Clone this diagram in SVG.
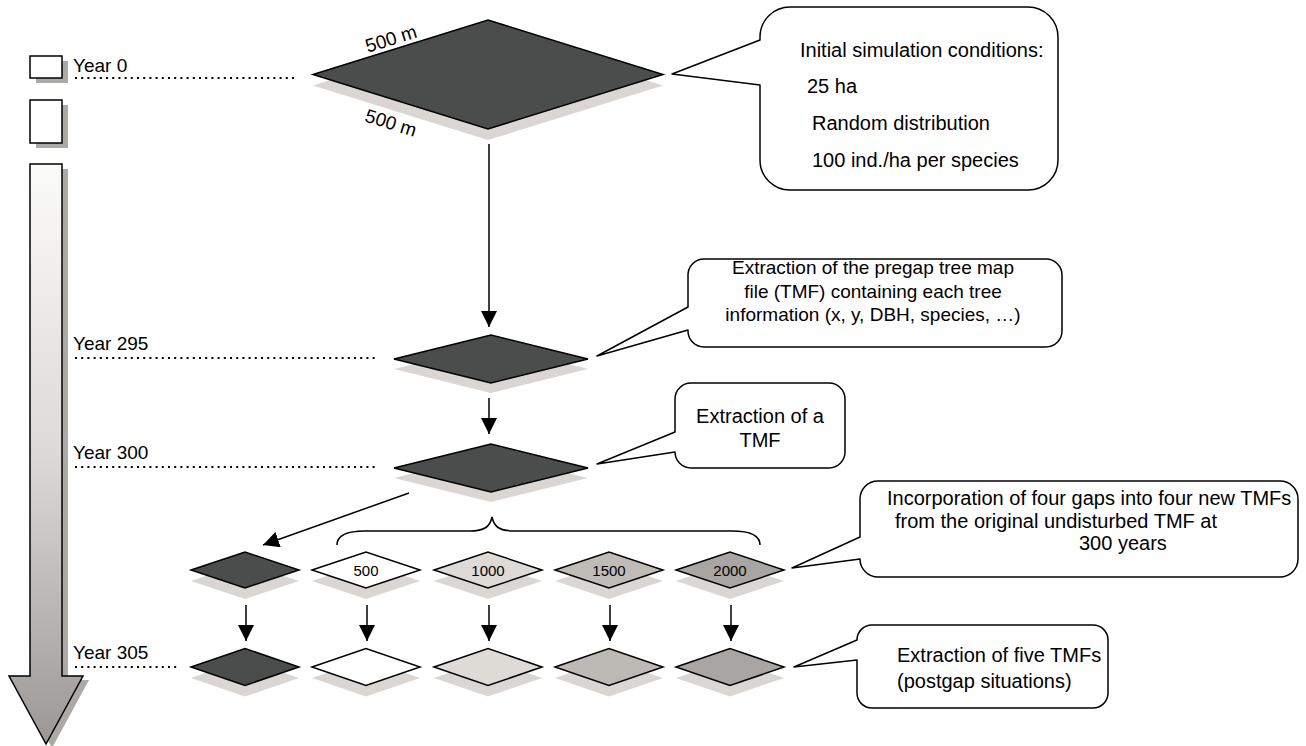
<svg xmlns="http://www.w3.org/2000/svg" width="1306" height="746" viewBox="0 0 1306 746">
<defs>
<style>
text{font-family:"Liberation Sans",Arial,sans-serif;fill:#000}
.yr{font-size:19px}
.ct{font-size:20px}
.ct19{font-size:19px}
.lb{font-size:15px}
.dm{stroke:#000;stroke-width:1.5;stroke-linejoin:miter}
.sh{fill:#d9d6d3}
.bsh{fill:#aca9a6}
.dark{fill:#4b4d4c}
.co{fill:#fff;stroke:#000;stroke-width:1.5;stroke-linejoin:round}
.dot{stroke:#000;stroke-width:2;stroke-dasharray:2 4.2;fill:none}
.ar{stroke:#000;stroke-width:1.5;fill:none;marker-end:url(#ah)}
</style>
<marker id="ah" markerUnits="userSpaceOnUse" markerWidth="16" markerHeight="16" refX="16" refY="8" orient="auto">
<path d="M0,0 L16,8 L0,16 Z" fill="#000"/>
</marker>
<linearGradient id="tg" gradientUnits="userSpaceOnUse" x1="0" y1="165" x2="0" y2="744">
<stop offset="0" stop-color="#fbfbfa"/>
<stop offset="0.5" stop-color="#dcd9d6"/>
<stop offset="1" stop-color="#9a9794"/>
</linearGradient>
</defs>

<g id="timeline">
<rect class="bsh" x="36" y="61" width="32" height="22"/>
<rect x="30" y="56" width="32" height="22" fill="#fff" stroke="#000" stroke-width="1.5"/>
<rect class="bsh" x="36" y="105" width="32" height="43"/>
<rect x="30" y="100" width="32" height="43" fill="#fff" stroke="#000" stroke-width="1.5"/>
<path class="bsh" d="M36,169 L68,169 L68,680 L89,680 L52,748 L15,680 L36,680 Z"/>
<path d="M30,164 L62,164 L62,676 L83,676 L46,744 L9,676 L30,676 Z" fill="url(#tg)" stroke="#000" stroke-width="1.5"/>
</g>

<g id="year-labels">
<text class="yr" x="73" y="72">Year 0</text>
<line class="dot" x1="75" y1="78" x2="298" y2="78"/>
<text class="yr" x="73" y="350">Year 295</text>
<line class="dot" x1="75" y1="358" x2="378" y2="358"/>
<text class="yr" x="73" y="459">Year 300</text>
<line class="dot" x1="75" y1="467" x2="378" y2="467"/>
<text class="yr" x="73" y="659">Year 305</text>
<line class="dot" x1="75" y1="667" x2="178" y2="667"/>
</g>

<g id="node-year0">
<polygon class="sh" points="313,85.5 488,31 663,85.5 488,140"/>
<polygon class="dm dark" points="313,74.5 488,20 663,74.5 488,129"/>
<text class="yr" transform="translate(393,45) rotate(-17.3)" text-anchor="middle">500 m</text>
<text class="yr" transform="translate(389,129) rotate(17.3)" text-anchor="middle">500 m</text>
</g>

<g id="node-year295">
<polygon class="sh" points="394,369 491,345 588,369 491,393"/>
<polygon class="dm dark" points="394,359 491,335 588,359 491,383"/>
</g>

<g id="node-year300">
<polygon class="sh" points="394,478 491,454 588,478 491,502"/>
<polygon class="dm dark" points="394,468 491,444 588,468 491,492"/>
</g>

<g id="node-gap-row">
<g id="gap-0">
<polygon class="sh" points="191,581 245,563 299,581 245,599"/>
<polygon class="dm dark" points="191,570 245,552 299,570 245,588"/>
</g>
<g id="gap-500">
<polygon class="sh" points="312,581 366,563 420,581 366,599"/>
<polygon class="dm" fill="#fff" points="312,570 366,552 420,570 366,588"/>
<text class="lb" x="366" y="576" text-anchor="middle">500</text>
</g>
<g id="gap-1000">
<polygon class="sh" points="434,581 488,563 542,581 488,599"/>
<polygon class="dm" fill="#dedad6" points="434,570 488,552 542,570 488,588"/>
<text class="lb" x="488" y="576" text-anchor="middle">1000</text>
</g>
<g id="gap-1500">
<polygon class="sh" points="555,581 609,563 663,581 609,599"/>
<polygon class="dm" fill="#bfbbb7" points="555,570 609,552 663,570 609,588"/>
<text class="lb" x="609" y="576" text-anchor="middle">1500</text>
</g>
<g id="gap-2000">
<polygon class="sh" points="676,581 730,563 784,581 730,599"/>
<polygon class="dm" fill="#a8a5a2" points="676,570 730,552 784,570 730,588"/>
<text class="lb" x="730" y="576" text-anchor="middle">2000</text>
</g>
</g>

<g id="node-year305-row">
<g id="post-0">
<polygon class="sh" points="191,678 245,659.5 299,678 245,696.5"/>
<polygon class="dm dark" points="191,667 245,648.5 299,667 245,685.5"/>
</g>
<g id="post-500">
<polygon class="sh" points="312,678 366,659.5 420,678 366,696.5"/>
<polygon class="dm" fill="#fff" points="312,667 366,648.5 420,667 366,685.5"/>
</g>
<g id="post-1000">
<polygon class="sh" points="434,678 488,659.5 542,678 488,696.5"/>
<polygon class="dm" fill="#dedad6" points="434,667 488,648.5 542,667 488,685.5"/>
</g>
<g id="post-1500">
<polygon class="sh" points="555,678 609,659.5 663,678 609,696.5"/>
<polygon class="dm" fill="#bdbab6" points="555,667 609,648.5 663,667 609,685.5"/>
</g>
<g id="post-2000">
<polygon class="sh" points="676,678 730,659.5 784,678 730,696.5"/>
<polygon class="dm" fill="#a8a5a3" points="676,667 730,648.5 784,667 730,685.5"/>
</g>
</g>

<g id="connectors">
<line class="ar" x1="489" y1="144" x2="489" y2="327"/>
<line class="ar" x1="489" y1="398" x2="489" y2="434"/>
<line class="ar" x1="409" y1="493" x2="263" y2="545"/>
<path d="M337,545 C337,534 349,531 365,531 L470,531 C484,531 490,527 492,517 C494,527 500,531 514,531 L732,531 C747,531 760,534 760,545" fill="none" stroke="#000" stroke-width="1.5"/>
<line class="ar" x1="246" y1="605" x2="246" y2="641"/>
<line class="ar" x1="367" y1="605" x2="367" y2="641"/>
<line class="ar" x1="489" y1="605" x2="489" y2="641"/>
<line class="ar" x1="610" y1="605" x2="610" y2="641"/>
<line class="ar" x1="731" y1="605" x2="731" y2="641"/>
</g>

<g id="callout-initial">
<path class="co" d="M760,40 L760,37 A30,30 0 0 1 790,7 L1028,7 A30,30 0 0 1 1058,37 L1058,160 A30,30 0 0 1 1028,190 L790,190 A30,30 0 0 1 760,160 L760,85 L672,74 Z"/>
<text class="ct" x="800" y="57">Initial simulation conditions:</text>
<text class="ct" x="807" y="93">25 ha</text>
<text class="ct" x="812" y="130">Random distribution</text>
<text class="ct" x="812" y="167">100 ind./ha per species</text>
</g>

<g id="callout-pregap">
<path class="co" d="M688,307 L688,275 A16,16 0 0 1 704,259 L1046,259 A16,16 0 0 1 1062,275 L1062,331 A16,16 0 0 1 1046,347 L704,347 A16,16 0 0 1 688,331 L688,330 L597,356 Z"/>
<text class="ct19" x="873" y="274" text-anchor="middle">Extraction of the pregap tree map</text>
<text class="ct19" x="873" y="298" text-anchor="middle">file (TMF) containing each tree</text>
<text class="ct19" x="873" y="321" text-anchor="middle">information (x, y, DBH, species, …)</text>
</g>

<g id="callout-tmf">
<path class="co" d="M675,432 L675,399 A16,16 0 0 1 691,383 L829,383 A16,16 0 0 1 845,399 L845,452 A16,16 0 0 1 829,468 L691,468 A16,16 0 0 1 675,452 L597,464 Z"/>
<text class="ct" x="760" y="423" text-anchor="middle">Extraction of a</text>
<text class="ct" x="760" y="447" text-anchor="middle">TMF</text>
</g>

<g id="callout-gaps">
<path class="co" d="M860,537 L860,499 A18,18 0 0 1 878,481 L1280,481 A18,18 0 0 1 1298,499 L1298,559 A18,18 0 0 1 1280,577 L878,577 A18,18 0 0 1 860,559 L792,568 Z"/>
<text class="ct" x="887" y="505">Incorporation of four gaps into four new TMFs</text>
<text class="ct" x="895" y="528">from the original undisturbed TMF at</text>
<text class="ct" x="1079" y="550">300 years</text>
</g>

<g id="callout-postgap">
<path class="co" d="M857,640 A15,15 0 0 1 872,625 L1093,625 A15,15 0 0 1 1108,640 L1108,693 A15,15 0 0 1 1093,708 L872,708 A15,15 0 0 1 857,693 L857,660 L794,667 Z"/>
<text class="ct" x="897" y="662">Extraction of five TMFs</text>
<text class="ct" x="897" y="688">(postgap situations)</text>
</g>
</svg>
